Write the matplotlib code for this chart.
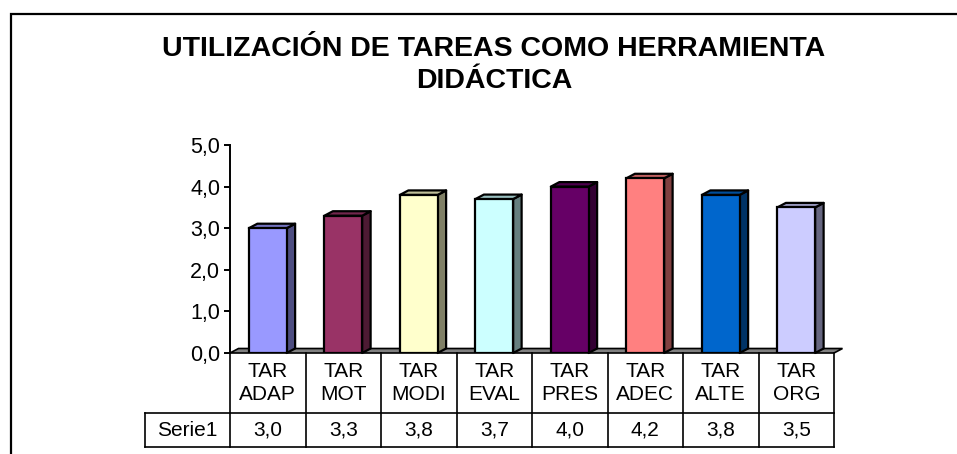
import numpy as np
import matplotlib
matplotlib.use('Agg')
import matplotlib.pyplot as plt
from matplotlib.patches import Polygon, Rectangle

# data
categories = ['TAR\nADAP', 'TAR\nMOT', 'TAR\nMODI', 'TAR\nEVAL',
              'TAR\nPRES', 'TAR\nADEC', 'TAR\nALTE', 'TAR\nORG']
values = [3.0, 3.3, 3.8, 3.7, 4.0, 4.2, 3.8, 3.5]
series_name = 'Serie1'
bar_colors = ['#9999FF', '#993366', '#FFFFCC', '#CCFFFF',
              '#660066', '#FF8080', '#0066CC', '#CCCCFF']
yticks = [0, 1, 2, 3, 4, 5]
title = ['UTILIZACIÓN DE TAREAS COMO HERRAMIENTA', 'DIDÁCTICA']

plt.rcParams['font.family'] = ['Liberation Sans', 'DejaVu Sans']

W, H = 957, 454
fig = plt.figure(figsize=(W / 100, H / 100), dpi=100)

def fx(px):
    return px / W

def fy(py):
    return 1 - py / H

# outer chart border (right/bottom run off the picture)
fig.patches.append(Rectangle((fx(11), fy(470)), fx(980) - fx(11), fy(14) - fy(470),
                             transform=fig.transFigure, fill=False,
                             edgecolor='black', lw=1.6, clip_on=False))

fig.text(fx(494), fy(56), title[0], ha='center', va='baseline',
         fontsize=20.5, fontweight='bold')
fig.text(fx(494), fy(88), title[1], ha='center', va='baseline',
         fontsize=20.5, fontweight='bold')

# plot area: y 0 -> px 353, y 5 -> px 145, x from 230 to 834
ax = fig.add_axes([fx(230), fy(353), fx(834) - fx(230), fy(145) - fy(353)])
n = len(values)
x = np.arange(n)
ax.set_xlim(-0.5, n - 0.5)
ax.set_ylim(0, 5)

# depth of the fake 3d effect, in data units
px_per_x = (834 - 230) / n
px_per_y = (353 - 145) / 5
dx = 8.5 / px_per_x
dy = 4.5 / px_per_y

def shade(c, f):
    r, g, b = matplotlib.colors.to_rgb(c)
    return (r * f, g * f, b * f)

# floor
floor = Polygon([(-0.5, 0), (n - 0.5, 0), (n - 0.5 + dx, dy), (-0.5 + dx, dy)],
                closed=True, facecolor='#808080', edgecolor='black', lw=1.2,
                zorder=1, clip_on=False)
ax.add_patch(floor)

bw = 0.5
bars = ax.bar(x, values, width=bw, color=bar_colors, edgecolor='black',
              lw=1.6, zorder=3)
for xi, v, c in zip(x, values, bar_colors):
    r = xi + bw / 2
    l = xi - bw / 2
    side = Polygon([(r, 0), (r + dx, dy), (r + dx, v + dy), (r, v)], closed=True,
                   facecolor=shade(c, 0.5), edgecolor='black', lw=1.6,
                   zorder=2, clip_on=False, joinstyle='round')
    top = Polygon([(l, v), (r, v), (r + dx, v + dy), (l + dx, v + dy)], closed=True,
                  facecolor=shade(c, 0.75), edgecolor='black', lw=1.6,
                  zorder=2, clip_on=False, joinstyle='round')
    ax.add_patch(side)
    ax.add_patch(top)

for s in ['top', 'right', 'bottom']:
    ax.spines[s].set_visible(False)
ax.spines['left'].set_linewidth(1.4)
ax.spines['left'].set_zorder(5)
ax.set_yticks(yticks)
ax.set_yticklabels([('%.1f' % t).replace('.', ',') for t in yticks])
ax.tick_params(axis='y', direction='out', length=4, width=1.4, pad=3, labelsize=15.5)
ax.set_xticks([])
ax.patch.set_alpha(0)

# data table under the axis
ah = 353 - 145
hdr_bot = -60 / ah
tbl_bot = -94 / ah
lab_left = -0.5 - 85 / px_per_x
tr = ax.get_xaxis_transform()
lk = dict(color='black', lw=1.2, transform=tr, clip_on=False, zorder=4)

ax.plot([-0.5, -0.5], [0, tbl_bot], **lk)
for b in np.arange(n) + 0.5:
    ax.plot([b, b], [0, tbl_bot], **lk)
ax.plot([lab_left, n - 0.5], [hdr_bot, hdr_bot], **lk)
ax.plot([lab_left, n - 0.5], [tbl_bot, tbl_bot], **lk)
ax.plot([lab_left, lab_left], [hdr_bot, tbl_bot], **lk)

for xi, lab, v in zip(x, categories, values):
    ax.text(xi, hdr_bot / 2, lab, transform=tr, ha='center', va='center',
            fontsize=15, linespacing=1.25, clip_on=False)
    ax.text(xi, (hdr_bot + tbl_bot) / 2, ('%.1f' % v).replace('.', ','),
            transform=tr, ha='center', va='center', fontsize=15, clip_on=False)
ax.text((lab_left - 0.5) / 2, (hdr_bot + tbl_bot) / 2, series_name, transform=tr,
        ha='center', va='center', fontsize=15, clip_on=False)

fig.savefig('out.png', dpi=100)
